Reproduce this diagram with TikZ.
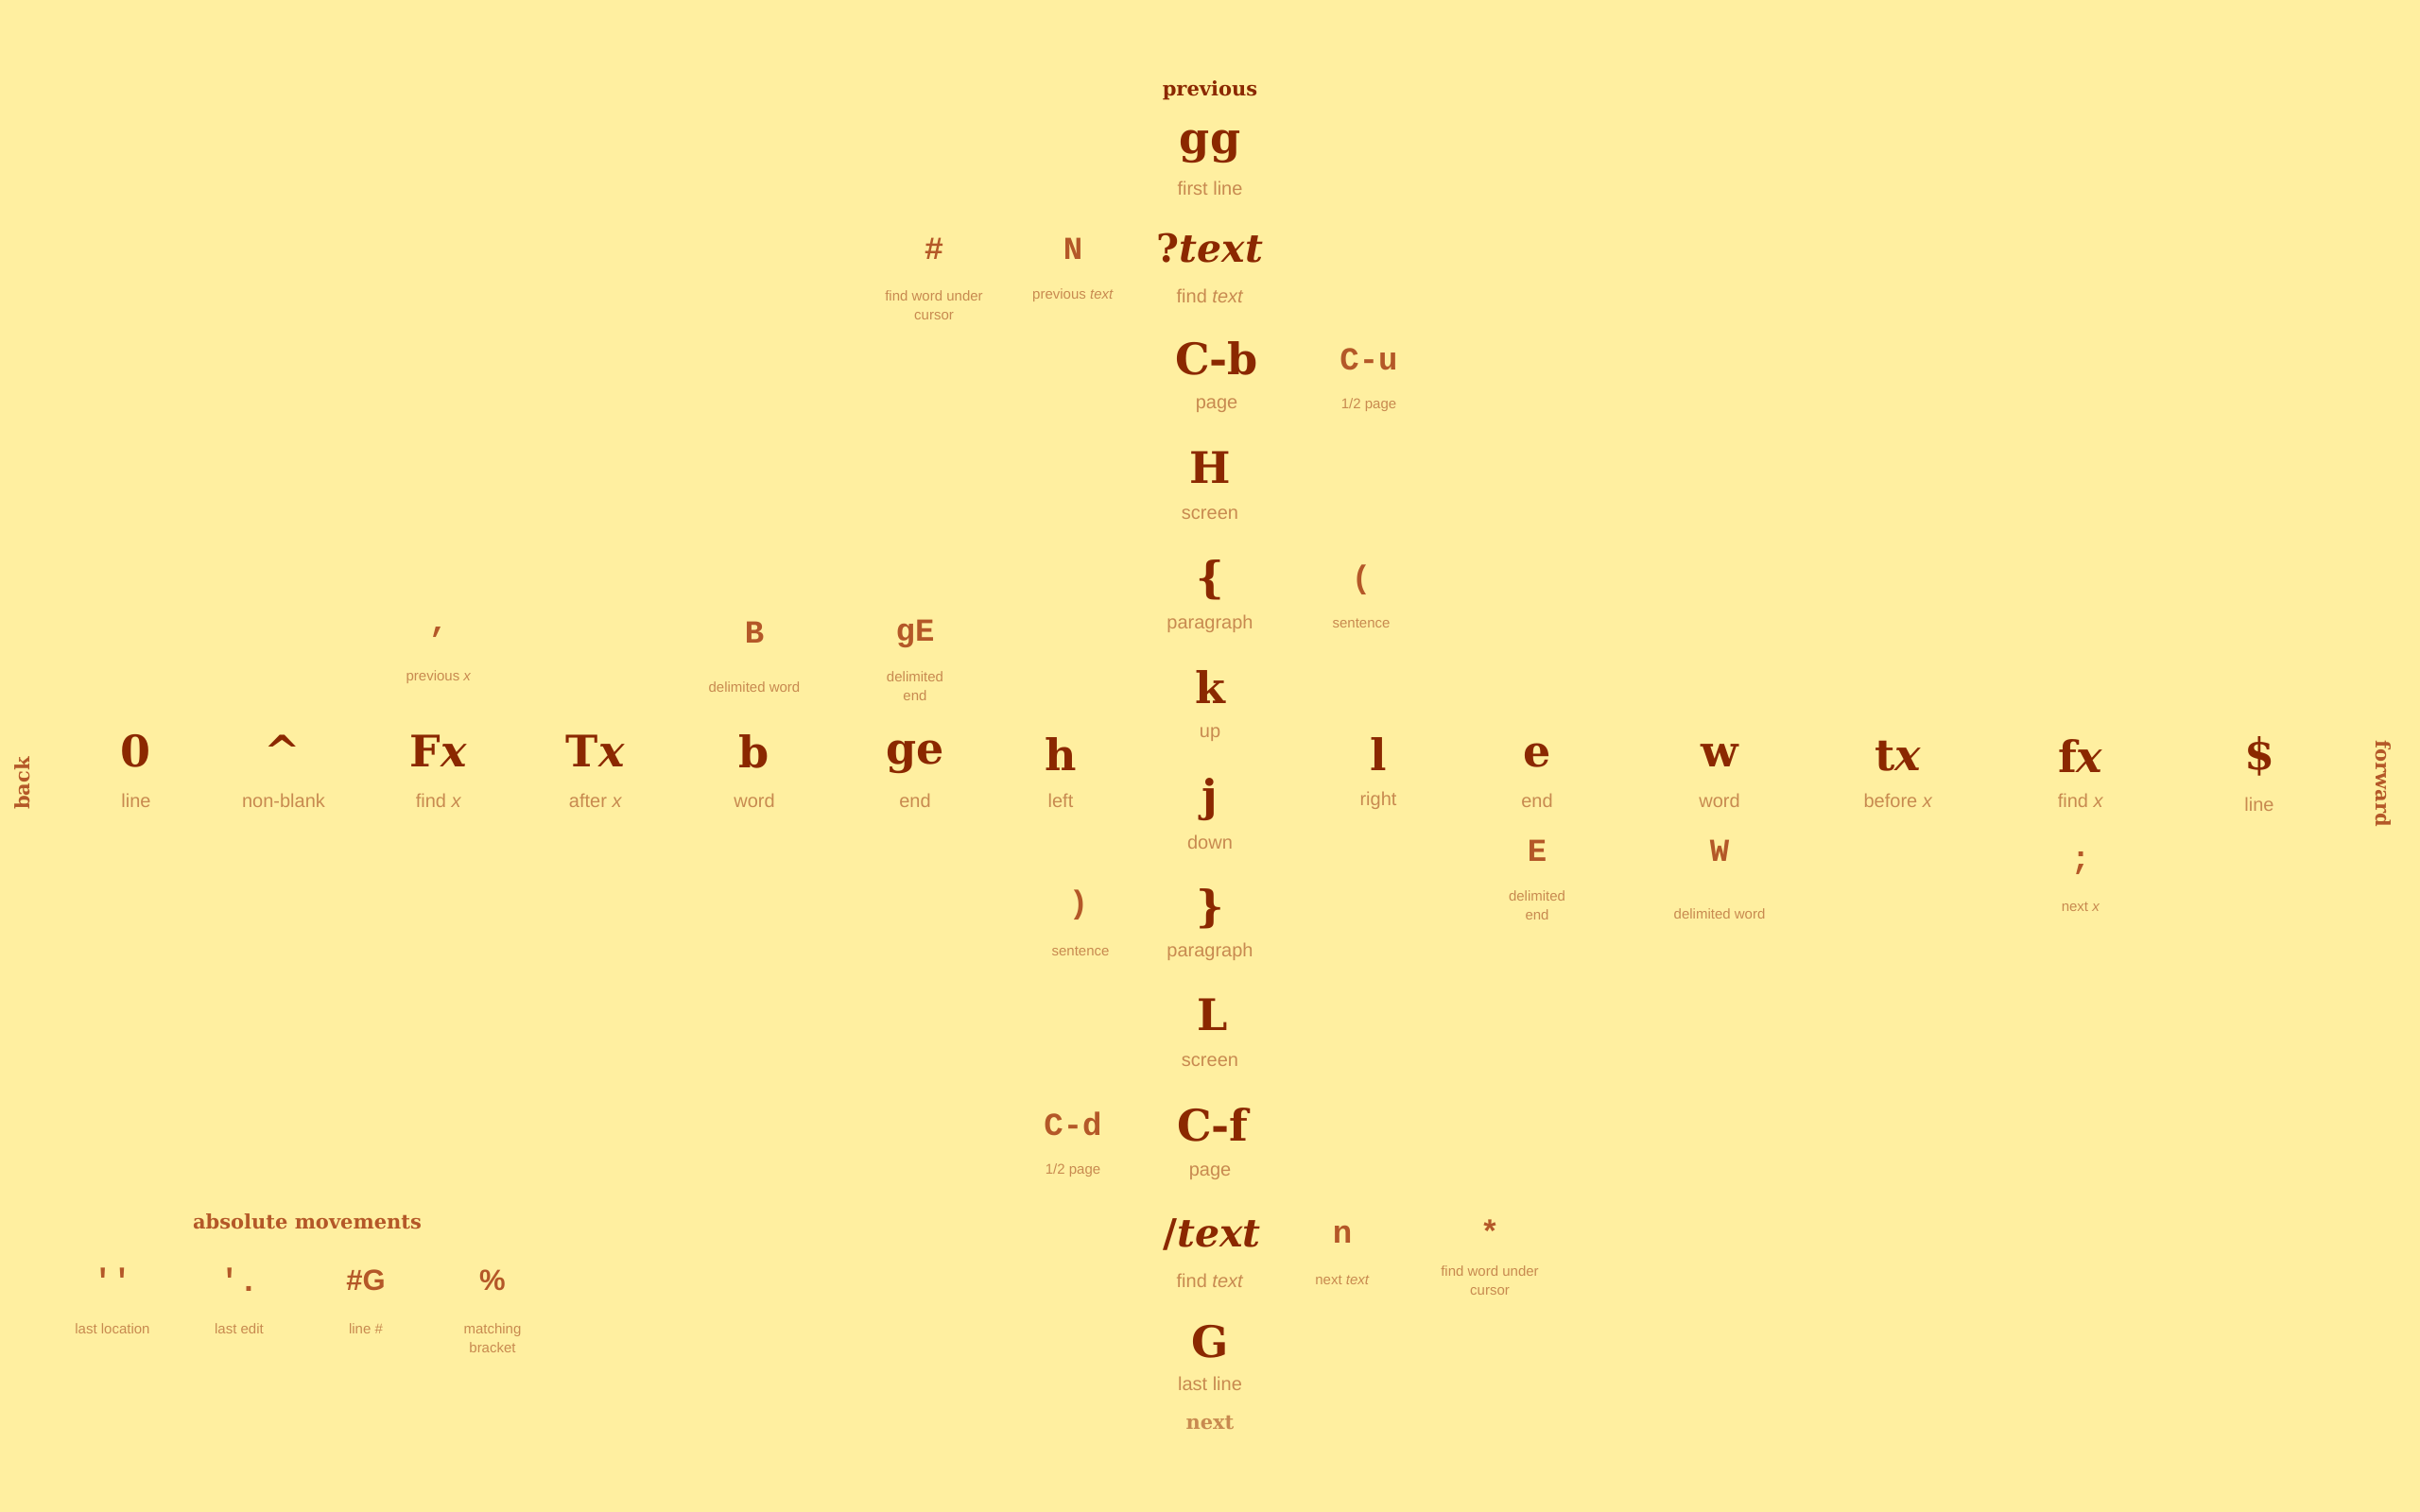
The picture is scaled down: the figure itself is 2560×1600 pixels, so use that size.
\documentclass[tikz,border=0pt]{standalone}
\usepackage{fontspec}
\setmainfont{Liberation Sans}
\newfontfamily\keyf{DejaVu Serif}
\newfontfamily\kmono{Liberation Mono}
\definecolor{bgc}{RGB}{255,239,160}
\definecolor{keyc}{RGB}{139,40,0}
\definecolor{secc}{RGB}{180,88,40}
\definecolor{labc}{RGB}{200,138,80}
\tikzset{
  kmain/.style={text=keyc, font={\keyf\bfseries\fontsize{46}{50}\selectfont}, inner sep=0pt},
  ktext/.style={text=keyc, font={\keyf\bfseries\fontsize{41}{46}\selectfont}, inner sep=0pt},
  ksec/.style={text=secc, font={\kmono\bfseries\fontsize{34}{38}\selectfont}, inner sep=0pt},
  ksans/.style={text=secc, font={\bfseries\fontsize{31}{36}\selectfont}, inner sep=0pt},
  lbig/.style={text=labc, font={\fontsize{20}{24}\selectfont}, inner sep=0pt},
  lsm/.style={text=labc, font={\fontsize{15}{19.5}\selectfont}, inner sep=0pt, align=center},
  head/.style={font={\keyf\bfseries\fontsize{21}{24}\selectfont}, inner sep=0pt}
}
\begin{document}
\begin{tikzpicture}[x=1pt,y=-1pt]
\fill[bgc] (0,0) rectangle (2560,1600);
\useasboundingbox (0,0) rectangle (2560,1600);
% central column
\node[head,text=keyc] (prev) at (1280,96) {previous};
\node[kmain] (gg) at (1280,155) {gg};
\node[lbig] (ggl) at (1280,199) {first line};
\node[ktext] (qtext) at (1280,263) {?\textit{text}};
\node[lbig] (qtextl) at (1280,313) {find \textit{text}};
\node[ksec] (hash) at (988,263) {\#};
\node[lsm] (hashl) at (988,323) {find word under\\cursor};
\node[ksec] (N) at (1135,263) {N};
\node[lsm] (Nl) at (1135,313) {previous \textit{text}};
\node[kmain] (Cb) at (1287,379) {C-b};
\node[lbig] (Cbl) at (1287,429) {page};
\node[ksec] (Cu) at (1448,380) {C-u};
\node[lsm] (Cul) at (1448,429) {1/2 page};
\node[kmain] (H) at (1280,495) {H};
\node[lbig] (Hl) at (1280,544) {screen};
\node[kmain] (lbr) at (1280,614) {\{};
\node[lbig] (lbrl) at (1280,660) {paragraph};
\node[ksec] (lpar) at (1440,614) {(};
\node[lsm] (lparl) at (1440,660) {sentence};
\node[kmain] (k) at (1280,727) {k};
\node[lbig] (kl) at (1280,777) {up};
\node[kmain] (j) at (1280,846) {j};
\node[lbig] (jl) at (1280,891) {down};
\node[kmain] (rbr) at (1280,962) {\}};
\node[lbig] (rbrl) at (1280,1007) {paragraph};
\node[ksec] (rpar) at (1141,958) {)};
\node[lsm] (rparl) at (1143,1007) {sentence};
\node[kmain] (L) at (1283,1074) {L};
\node[lbig] (Ll) at (1280,1123) {screen};
\node[kmain] (Cf) at (1283,1190) {C-f};
\node[lbig] (Cfl) at (1280,1241) {page};
\node[ksec] (Cd) at (1135,1189) {C-d};
\node[lsm] (Cdl) at (1135,1239) {1/2 page};
\node[ktext] (stext) at (1282,1306) {/\textit{text}};
\node[lbig] (stextl) at (1280,1355) {find \textit{text}};
\node[ksec] (n) at (1420,1306) {n};
\node[lsm] (nl) at (1420,1355) {next \textit{text}};
\node[ksec] (star) at (1576,1303) {*};
\node[lsm] (starl) at (1576,1355) {find word under\\cursor};
\node[kmain] (G) at (1280,1420) {G};
\node[lbig] (Gl) at (1280,1464) {last line};
\node[head,text=labc] (next) at (1280,1505) {next};
% horizontal row
\node[head,text=secc,rotate=90] (back) at (24,829) {back};
\node[head,text=secc,rotate=-90] (fwd) at (2521,829) {forward};
\node[kmain] (zero) at (144,795) {0};
\node[lbig] (zerol) at (144,847) {line};
\node[kmain] (caret) at (299,795) {\textasciicircum};
\node[lbig] (caretl) at (300,847) {non-blank};
\node[kmain] (Fx) at (464,795) {F\textit{x}};
\node[lbig] (Fxl) at (464,847) {find \textit{x}};
\node[kmain] (Tx) at (630,795) {T\textit{x}};
\node[lbig] (Txl) at (630,847) {after \textit{x}};
\node[kmain] (b) at (798,795) {b};
\node[lbig] (bl) at (798,847) {word};
\node[kmain] (ge) at (968,801) {ge};
\node[lbig] (gel) at (968,847) {end};
\node[kmain] (h) at (1122,798) {h};
\node[lbig] (hl) at (1122,847) {left};
\node[kmain] (l) at (1458,798) {l};
\node[lbig] (ll) at (1458,847) {right};
\node[kmain] (e) at (1626,800) {e};
\node[lbig] (el) at (1626,847) {end};
\node[kmain] (w) at (1819,800) {w};
\node[lbig] (wl) at (1819,847) {word};
\node[kmain] (tx) at (2008,800) {t\textit{x}};
\node[lbig] (txl) at (2008,847) {before \textit{x}};
\node[kmain] (fx) at (2201,800) {f\textit{x}};
\node[lbig] (fxl) at (2201,847) {find \textit{x}};
\node[kmain] (dollar) at (2390,800) {\$};
\node[lbig] (dollarl) at (2390,851) {line};
% above row
\node[ksec] (comma) at (464,669) {,};
\node[lsm] (commal) at (464,717) {previous \textit{x}};
\node[ksec] (B) at (798,669) {B};
\node[lsm] (Bl) at (798,727) {delimited word};
\node[ksec] (gE) at (968,671) {gE};
\node[lsm] (gEl) at (968,726) {delimited\\end};
% below row
\node[ksec] (E) at (1626,900) {E};
\node[lsm] (El) at (1626,958) {delimited\\end};
\node[ksec] (W) at (1819,900) {W};
\node[lsm] (Wl) at (1819,967) {delimited word};
\node[ksec] (semi) at (2201,913) {;};
\node[lsm] (semil) at (2201,960) {next \textit{x}};
% absolute movements
\node[head,text=secc] (abs) at (325,1293) {absolute movements};
\node[ksec] (qq) at (119,1354) {'{}'};
\node[lsm] (qql) at (119,1406) {last location};
\node[ksec] (qdot) at (253,1354) {'.};
\node[lsm] (qdotl) at (253,1406) {last edit};
\node[ksans] (hG) at (387,1355) {\#G};
\node[lsm] (hGl) at (387,1406) {line \#};
\node[ksans] (pct) at (521,1355) {\%};
\node[lsm] (pctl) at (521,1416) {matching\\bracket};
\end{tikzpicture}
\end{document}
